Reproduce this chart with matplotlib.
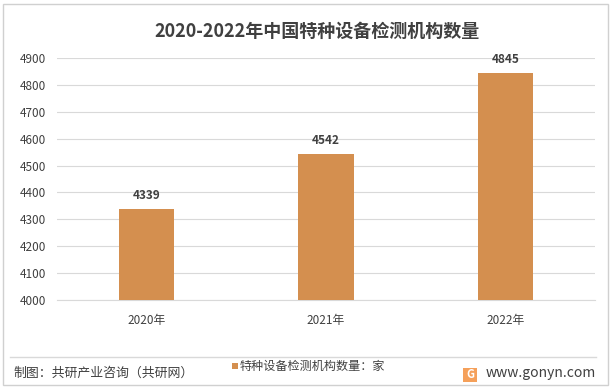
import matplotlib
matplotlib.use("Agg")
import matplotlib.pyplot as plt
from matplotlib.patches import Rectangle
from matplotlib.lines import Line2D

plt.rcParams['font.family'] = ['Noto Sans CJK SC', 'DejaVu Sans']

categories = ["2020年", "2021年", "2022年"]
values = [4339, 4542, 4845]
yticks = [4000, 4100, 4200, 4300, 4400, 4500, 4600, 4700, 4800, 4900]
title = "2020-2022年中国特种设备检测机构数量"
legend_label = "特种设备检测机构数量：家"
source = "制图：共研产业咨询（共研网）"
site = "www.gonyn.com"

W, H = 613, 389
fig = plt.figure(figsize=(W/100, H/100), dpi=100)
ax = fig.add_axes([57/W, 1-300/H, (595-57)/W, (300-58)/H])

color = "#D48F4F"
text_color = "#404040"
x = range(len(categories))
ax.bar(x, values, width=0.31, color=color, zorder=3)
for xi, v in zip(x, values):
    ax.annotate(str(v), (xi, v), xytext=(0, 5), textcoords='offset points',
                ha='center', va='bottom', fontsize=8.5, fontweight='bold', color=text_color)

ax.set_ylim(4000, 4900)
ax.set_xlim(-0.5, 2.5)
ax.set_yticks(yticks)
ax.set_yticklabels([str(t) for t in yticks], fontsize=8.5, color=text_color)
ax.set_xticks(list(x))
ax.set_xticklabels(categories, fontsize=8.5, color=text_color)
ax.grid(axis='y', color='#D9D9D9', linewidth=0.8, zorder=0)
for s in ax.spines.values():
    s.set_visible(False)
ax.spines['bottom'].set_visible(True)
ax.spines['bottom'].set_color('#D9D9D9')
ax.tick_params(length=0)
ax.tick_params(axis='y', pad=8)
ax.tick_params(axis='x', pad=10)

fig.text(317/W, 1-31/H, title, ha='center', va='center', fontsize=13, fontweight='bold', color=text_color)

# outer border
fig.add_artist(Rectangle((3/W, 4/H), (608-3)/W, (385-4)/H, transform=fig.transFigure,
                         fill=False, edgecolor='#D0D0D0', linewidth=1))
# separator line
fig.add_artist(Line2D([10/W, 596/W], [1-357/H, 1-357/H], transform=fig.transFigure,
                      color='#D9D9D9', linewidth=1))

# legend
fig.add_artist(Rectangle((232/W, 1-369/H), 6/W, 6/H, transform=fig.transFigure,
                         facecolor=color, edgecolor='none'))
fig.text(240/W, 1-366/H, legend_label, ha='left', va='center', fontsize=8.7, color=text_color)
fig.text(13/W, 1-373/H, source, ha='left', va='center', fontsize=9.3, color=text_color)
fig.text(596/W, 1-373/H, site, ha='right', va='center', fontsize=10, color=text_color)
fig.add_artist(Rectangle((463/W, 1-382/H), 14/W, 14/H, transform=fig.transFigure,
                         facecolor='#F5A05A', edgecolor='none'))
fig.text(470/W, 1-375/H, "G", ha='center', va='center', fontsize=8, fontweight='bold', color='white')

fig.savefig("out.png", dpi=100)
